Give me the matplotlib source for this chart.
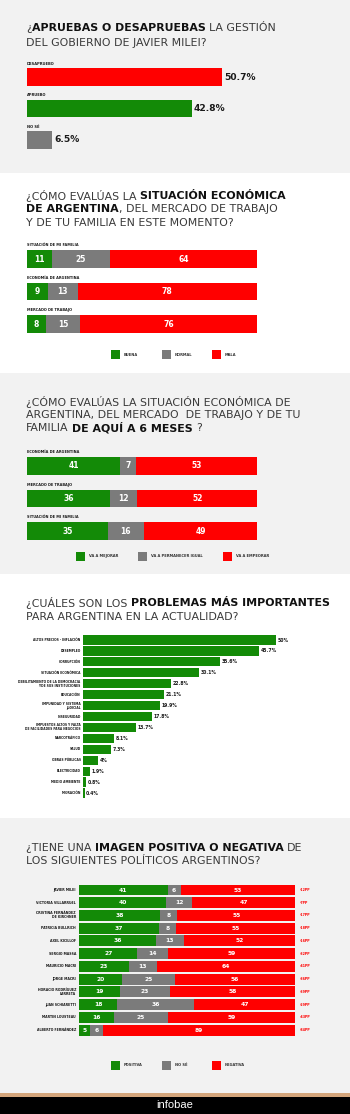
import matplotlib
matplotlib.use("Agg")
import matplotlib.pyplot as plt
from matplotlib.patches import Rectangle

W, H = 350, 1114
GREEN = "#138a07"
GRAY = "#7b7b7b"
RED = "#ff0000"
BG = "#f2f2f2"
DARK = "#1a1a1a"

## --- data ---
gestion_labels = ["DESAPRUEBO", "APRUEBO", "NO SÉ"]
gestion_values = [50.7, 42.8, 6.5]
gestion_colors = [RED, GREEN, GRAY]

hoy_labels = ["SITUACIÓN DE MI FAMILIA", "ECONOMÍA DE ARGENTINA", "MERCADO DE TRABAJO"]
hoy_buena = [11, 9, 8]
hoy_normal = [25, 13, 15]
hoy_mala = [64, 78, 76]

futuro_labels = ["ECONOMÍA DE ARGENTINA", "MERCADO DE TRABAJO", "SITUACIÓN DE MI FAMILIA"]
futuro_mejorar = [41, 36, 35]
futuro_igual = [7, 12, 16]
futuro_empeorar = [53, 52, 49]

problemas = ["ALTOS PRECIOS - INFLACIÓN", "DESEMPLEO", "CORRUPCIÓN", "SITUACIÓN ECONÓMICA",
             "DEBILITAMIENTO DE LA DEMOCRACIA\nY DE SUS INSTITUCIONES", "EDUCACIÓN",
             "IMPUNIDAD Y SISTEMA\nJUDICIAL", "INSEGURIDAD",
             "IMPUESTOS ALTOS Y FALTA\nDE FACILIDADES PARA NEGOCIOS", "NARCOTRÁFICO", "SALUD",
             "OBRAS PÚBLICAS", "ELECTRICIDAD", "MEDIO AMBIENTE", "MIGRACIÓN"]
problemas_pct = [50, 45.7, 35.6, 30.1, 22.8, 21.1, 19.9, 17.8, 13.7, 8.1, 7.3, 4, 1.9, 0.8, 0.4]

politicos = ["JAVIER MILEI", "VICTORIA VILLARRUEL", "CRISTINA FERNÁNDEZ\nDE KIRCHNER",
             "PATRICIA BULLRICH", "AXEL KICILLOF", "SERGIO MASSA", "MAURICIO MACRI",
             "JORGE MACRI", "HORACIO RODRÍGUEZ\nLARRETA", "JUAN SCHIARETTI",
             "MARTIN LOUSTEAU", "ALBERTO FERNÁNDEZ"]
pol_positiva = [41, 40, 38, 37, 36, 27, 23, 20, 19, 18, 16, 5]
pol_nose = [6, 12, 8, 8, 13, 14, 13, 25, 23, 36, 25, 6]
pol_negativa = [53, 47, 55, 55, 52, 59, 64, 56, 58, 47, 59, 89]
pol_diferencia = [-12, -7, -17, -18, -16, -32, -41, -36, -39, -29, -43, -84]

fig = plt.figure(figsize=(W / 100, H / 100), dpi=100, facecolor="white")
renderer = fig.canvas.get_renderer()


def fx(x):
    return x / W


def fy(y):
    return 1 - y / H


def band(y0, y1, color):
    fig.patches.append(Rectangle((0, fy(y1)), 1, (y1 - y0) / H, transform=fig.transFigure,
                                 facecolor=color, edgecolor="none", zorder=-10))


def make_ax(x0, x1, y_first, step, n, xmax):
    top = y_first - step
    bottom = y_first + n * step
    ax = fig.add_axes([fx(x0), fy(bottom), (x1 - x0) / W, (bottom - top) / H])
    ax.set_xlim(0, xmax)
    ax.set_ylim(n, -1)
    ax.axis("off")
    return ax


def title_line(y, parts, size=7.95, x=26):
    space = 0.318 * size * 100 / 72
    cx = x
    for txt, bold in parts:
        cx += (len(txt) - len(txt.lstrip())) * space
        t = fig.text(fx(cx), fy(y), txt.strip(), fontsize=size,
                     fontweight="bold" if bold else "normal",
                     color="#111111" if bold else "#3a3a3a", ha="left", va="center")
        cx += t.get_window_extent(renderer).width
        cx += (len(txt) - len(txt.rstrip())) * space


def legend_row(y, items):
    for x, color, label in items:
        fig.patches.append(Rectangle((fx(x), fy(y + 4.5)), 9 / W, 9 / H,
                                     transform=fig.transFigure, facecolor=color, edgecolor="none"))
        fig.text(fx(x + 13), fy(y), label, fontsize=2.6, fontweight="bold", color="#333333",
                 va="center", ha="left")


def stacked(ax, series, colors, height, fs):
    n = len(series[0])
    totals = [sum(s[i] for s in series) for i in range(n)]
    left = [0] * n
    for s, c in zip(series, colors):
        widths = [s[i] * 100 / totals[i] for i in range(n)]
        ax.barh(range(n), widths, left=left, height=height, color=c, edgecolor="none")
        for i in range(n):
            ax.text(left[i] + widths[i] / 2, i, str(s[i]), color="white", fontsize=fs,
                    fontweight="bold", ha="center", va="center")
        left = [left[i] + widths[i] for i in range(n)]


## --- backgrounds ---
band(0, 173, BG)
band(373, 574, BG)
band(818, 1093, BG)
band(1093, 1096.5, "#d4a67c")
band(1096.5, 1114, "black")

## --- 1. aprueba / desaprueba ---
title_line(28, [("¿", False), ("APRUEBAS O DESAPRUEBAS ", True), ("LA GESTIÓN", False)])
title_line(43, [("DEL GOBIERNO DE JAVIER MILEI?", False)])
ax1 = make_ax(27, 258, 77, 31.5, 3, 60)
ax1.barh(range(3), gestion_values, height=0.57, color=gestion_colors, edgecolor="none")
for i, (lab, v) in enumerate(zip(gestion_labels, gestion_values)):
    ax1.text(0, i - 0.42, lab, fontsize=2.6, fontweight="bold", color=DARK, va="center")
    ax1.text(v + 0.5, i, f"{v}%", fontsize=6.6, fontweight="bold", color=DARK, va="center")

## --- 2. situación actual ---
title_line(196, [("¿CÓMO EVALÚAS LA ", False), ("SITUACIÓN ECONÓMICA", True)])
title_line(209.5, [("DE ARGENTINA", True), (", DEL MERCADO DE TRABAJO", False)])
title_line(223, [("Y DE TU FAMILIA EN ESTE MOMENTO?", False)])
ax2 = make_ax(27, 257, 259, 32.5, 3, 100)
stacked(ax2, [hoy_buena, hoy_normal, hoy_mala], [GREEN, GRAY, RED], 0.55, 5.5)
for i, lab in enumerate(hoy_labels):
    ax2.text(0, i - 0.43, lab, fontsize=2.5, fontweight="bold", color=DARK, va="center")
legend_row(355, [(111, GREEN, "BUENA"), (162, GRAY, "NORMAL"), (212, RED, "MALA")])

## --- 3. dentro de 6 meses ---
title_line(402, [("¿CÓMO EVALÚAS LA SITUACIÓN ECONÓMICA DE", False)])
title_line(415, [("ARGENTINA, DEL MERCADO  DE TRABAJO Y DE TU", False)])
title_line(428, [("FAMILIA ", False), ("DE AQUÍ A 6 MESES", True), (" ?", False)])
ax3 = make_ax(27, 257, 466, 32.5, 3, 100)
stacked(ax3, [futuro_mejorar, futuro_igual, futuro_empeorar], [GREEN, GRAY, RED], 0.55, 5.5)
for i, lab in enumerate(futuro_labels):
    ax3.text(0, i - 0.42, lab, fontsize=2.5, fontweight="bold", color=DARK, va="center")
legend_row(556, [(76, GREEN, "VA A MEJORAR"), (138, GRAY, "VA A PERMANECER IGUAL"),
                 (223, RED, "VA A EMPEORAR")])

## --- 4. problemas ---
title_line(603, [("¿CUÁLES SON LOS ", False), ("PROBLEMAS MÁS IMPORTANTES", True)])
title_line(617, [("PARA ARGENTINA EN LA ACTUALIDAD?", False)])
ax4 = make_ax(83, 314.6, 640, 10.93, len(problemas), 60)
ax4.barh(range(len(problemas)), problemas_pct, height=0.84, color=GREEN, edgecolor="none")
for i, (lab, v) in enumerate(zip(problemas, problemas_pct)):
    ax4.text(-0.6, i, lab, fontsize=2.2, fontweight="bold", color=DARK, va="center",
             ha="right", linespacing=1.0)
    ax4.text(v + 0.4, i, f"{v:g}%", fontsize=3.3, fontweight="bold", color=DARK, va="center")

## --- 5. imagen de políticos ---
title_line(848, [("¿TIENE UNA ", False), ("IMAGEN POSITIVA O NEGATIVA", True), (" DE", False)])
title_line(861, [("LOS SIGUIENTES POLÍTICOS ARGENTINOS?", False)])
ax5 = make_ax(79, 295, 890, 12.73, len(politicos), 100)
stacked(ax5, [pol_positiva, pol_nose, pol_negativa], [GREEN, GRAY, RED], 0.86, 4.3)
for i, (lab, d) in enumerate(zip(politicos, pol_diferencia)):
    ax5.text(-1.4, i, lab, fontsize=2.3, fontweight="bold", color=DARK, va="center",
             ha="right", linespacing=1.0)
    ax5.text(102.3, i, f"{d}PP", fontsize=2.3, fontweight="bold", color=RED, va="center")
legend_row(1065, [(111, GREEN, "POSITIVA"), (162, GRAY, "NO SÉ"), (212, RED, "NEGATIVA")])

## --- footer ---
fig.text(0.5, fy(1105.5), "infobae", fontsize=8, color="white", ha="center", va="center",
         family="Liberation Sans")

fig.savefig("out.png", dpi=100, facecolor="white")
